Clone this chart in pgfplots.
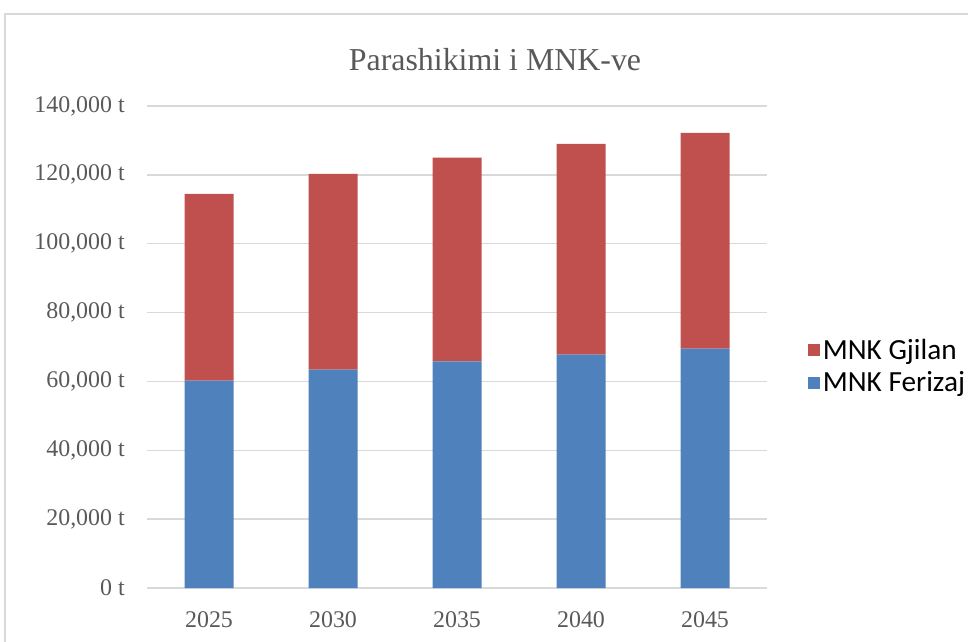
\documentclass[border=0pt]{standalone}
\usepackage{fontspec}
\setmainfont{Liberation Serif}
\newfontfamily\calibri{Carlito}
\usepackage{pgfplots}
\pgfplotsset{compat=1.18}
\definecolor{gjilan}{HTML}{C0504D}
\definecolor{ferizaj}{HTML}{4F81BD}
\definecolor{gridgray}{HTML}{D9D9D9}
\definecolor{textgray}{HTML}{595959}
\begin{document}
\begin{tikzpicture}
\useasboundingbox (0,0) rectangle (726bp,-481.5bp);
\draw[gridgray, line width=1.5bp] (3.75bp,-500bp) -- (3.75bp,-10.5bp) -- (740bp,-10.5bp);
\node[textgray, font=\fontsize{24}{28}\selectfont] at (371.25bp,-45bp) {Parashikimi i MNK-ve};
\begin{axis}[
  at={(110.25bp,-441bp)}, anchor=south west,
  scale only axis, width=465bp, height=361.5bp,
  ybar stacked, bar width=36.75bp,
  xmin=-0.5, xmax=4.5, ymin=0, ymax=140000,
  xtick={0,...,4}, xticklabels={2025,2030,2035,2040,2045},
  ytick={0,20000,...,140000},
  scaled y ticks=false,
  yticklabel={\pgfmathprintnumber{\tick}~t},
  /pgf/number format/.cd, fixed, 1000 sep={,}, assume math mode=true,
  /pgfplots/.cd,
  axis line style={draw=none},
  ymajorgrids, grid style={gridgray, line width=1bp},
  major tick length=0pt,
  tick label style={textgray, font=\fontsize{18}{20}\selectfont},
  yticklabel style={anchor=east, inner sep=0pt, xshift=-16.5bp},
  xticklabel style={anchor=center, inner sep=0pt, yshift=-24bp},
  legend style={at={(1.066,0.46)}, anchor=west, draw=none, fill=none,
    font=\calibri\fontsize{22}{24}\selectfont, text=black,
    legend cell align=left, row sep=4bp, inner sep=0pt},
  reverse legend,
  legend image code/.code={\fill[#1] (0bp,-4.5bp) rectangle (9bp,4.5bp);},
]
\addplot[fill=ferizaj, draw=none] coordinates {(0,60200) (1,63400) (2,65800) (3,67800) (4,69500)};
\addlegendentry{MNK Ferizaj}
\addplot[fill=gjilan, draw=none] coordinates {(0,54300) (1,56900) (2,59200) (3,61200) (4,62700)};
\addlegendentry{MNK Gjilan}
\end{axis}
\end{tikzpicture}
\end{document}
